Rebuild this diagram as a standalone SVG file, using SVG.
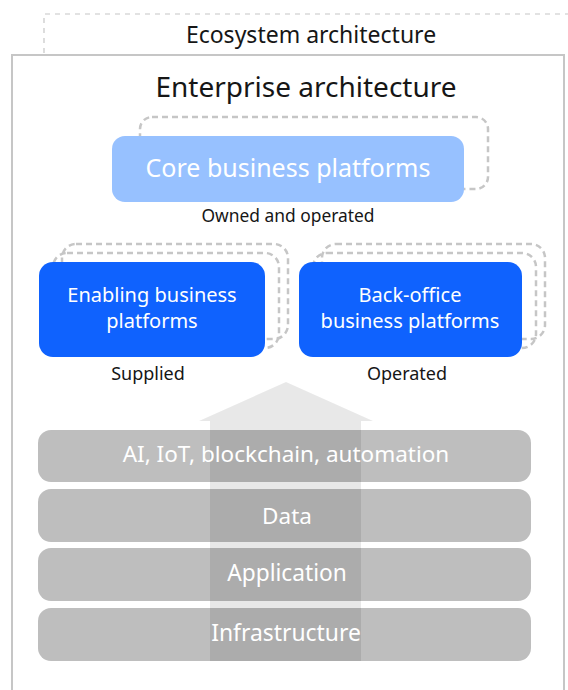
<svg xmlns="http://www.w3.org/2000/svg" width="568" height="690" viewBox="0 0 568 690">
<style>
.t{font-family:"Noto Sans","Liberation Sans",sans-serif;text-anchor:middle}
.dk{fill:#161616}
.wh{fill:#ffffff}
.shadow{fill:none;stroke:#c6c6c6;stroke-width:2.5;stroke-dasharray:6 4}
.layer{fill:#bebebe}
.blue{fill:#0f62fe}
</style>
<rect width="568" height="690" fill="#ffffff"/>
<g id="ecosystem">
<path d="M44 53 V14 H568" fill="none" stroke="#c6c6c6" stroke-width="1.2" stroke-dasharray="5 5"/>
<text class="t dk" x="311" y="43" font-size="23">Ecosystem architecture</text>
</g>
<g id="enterprise">
<path d="M12 700 V55 H564 V700" fill="#ffffff" stroke="#c6c6c6" stroke-width="2"/>
<text class="t dk" x="306" y="97" font-size="28">Enterprise architecture</text>
</g>
<g id="core">
<rect class="shadow" x="140" y="117" width="348" height="72" rx="12"/>
<rect x="112" y="136" width="352" height="66" rx="13" fill="#97c1ff"/>
<text class="t wh" x="288" y="177" font-size="25">Core business platforms</text>
<text class="t dk" x="288" y="222" font-size="17.4">Owned and operated</text>
</g>
<g id="enabling">
<rect class="shadow" x="62" y="244" width="226" height="95" rx="14"/>
<rect class="shadow" x="53" y="253" width="226" height="95" rx="14"/>
<rect class="blue" x="39" y="262" width="226" height="95" rx="14"/>
<text class="t wh" x="152" y="302" font-size="20">Enabling business</text>
<text class="t wh" x="152" y="328" font-size="20">platforms</text>
<text class="t dk" x="148" y="380" font-size="18">Supplied</text>
</g>
<g id="backoffice">
<rect class="shadow" x="322" y="244" width="223" height="95" rx="14"/>
<rect class="shadow" x="313" y="253" width="223" height="95" rx="14"/>
<rect class="blue" x="299" y="262" width="223" height="95" rx="14"/>
<text class="t wh" x="410" y="302" font-size="20">Back-office</text>
<text class="t wh" x="410" y="328" font-size="20">business platforms</text>
<text class="t dk" x="407" y="380" font-size="18">Operated</text>
</g>
<g id="layers">
<rect id="layer-ai" class="layer" x="38" y="430" width="493" height="52" rx="13"/>
<rect id="layer-data" class="layer" x="38" y="489" width="493" height="53" rx="13"/>
<rect id="layer-app" class="layer" x="38" y="548" width="493" height="53" rx="13"/>
<rect id="layer-infra" class="layer" x="38" y="608" width="493" height="53" rx="13"/>
</g>
<g id="connectors">
<path d="M286 382 L373 421 H361 V661 H210 V421 H199 Z" fill="#000000" fill-opacity="0.09"/>
</g>
<g id="layer-labels">
<text class="t wh" x="286" y="462" font-size="22.5">AI, IoT, blockchain, automation</text>
<text class="t wh" x="287" y="524" font-size="22.5">Data</text>
<text class="t wh" x="287" y="581" font-size="22.7">Application</text>
<text class="t wh" x="286" y="641" font-size="22.9">Infrastructure</text>
</g>
</svg>
